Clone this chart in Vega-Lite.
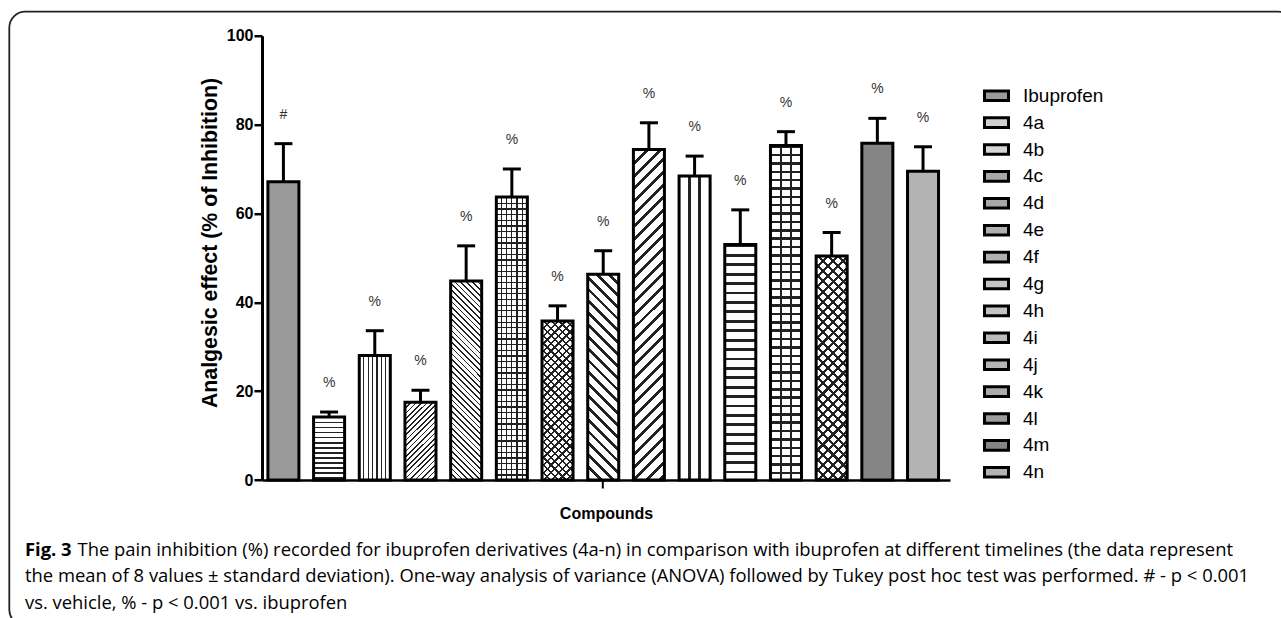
{
  "$schema": "https://vega.github.io/schema/vega-lite/v6.json",
  "width": 1285,
  "height": 614,
  "autosize": "none",
  "padding": {"left": 9.3, "top": 11.7, "right": -13.3, "bottom": -7.7},
  "background": "white",
  "view": {"stroke": "#222222", "strokeWidth": 1.8, "cornerRadius": 16, "fill": null},
  "title": {
    "text": "Fig. 3",
    "subtitle": [
      "\u200b\u00a0\u00a0\u00a0\u00a0\u00a0\u00a0\u00a0\u00a0\u00a0\u00a0\u00a0The pain inhibition (%) recorded for ibuprofen derivatives (4a-n) in comparison with ibuprofen at different timelines (the data represent",
      "the mean of 8 values ± standard deviation). One-way analysis of variance (ANOVA) followed by Tukey post hoc test was performed. # - p < 0.001",
      "vs. vehicle, % - p < 0.001 vs. ibuprofen"
    ],
    "orient": "bottom",
    "anchor": "start",
    "frame": "group",
    "offset": -85,
    "dx": 15.7,
    "font": "Open Sans",
    "fontSize": 18.4,
    "fontWeight": "bold",
    "color": "black",
    "subtitleFont": "Open Sans",
    "subtitleFontSize": 18.4,
    "subtitleFontWeight": "normal",
    "subtitleColor": "black",
    "subtitleLineHeight": 26.7,
    "subtitlePadding": -18.4
  },
  "data": {
    "values": [
      {"compound": "Ibuprofen", "value": 67.1, "upper": 75.7, "sig": "#"},
      {"compound": "4a", "value": 14.2, "upper": 15.3, "sig": "%"},
      {"compound": "4b", "value": 28.0, "upper": 33.6, "sig": "%"},
      {"compound": "4c", "value": 17.5, "upper": 20.2, "sig": "%"},
      {"compound": "4d", "value": 44.8, "upper": 52.7, "sig": "%"},
      {"compound": "4e", "value": 63.7, "upper": 70.0, "sig": "%"},
      {"compound": "4f", "value": 35.8, "upper": 39.2, "sig": "%"},
      {"compound": "4g", "value": 46.3, "upper": 51.6, "sig": "%"},
      {"compound": "4h", "value": 74.4, "upper": 80.4, "sig": "%"},
      {"compound": "4i", "value": 68.4, "upper": 72.9, "sig": "%"},
      {"compound": "4j", "value": 53.0, "upper": 60.8, "sig": "%"},
      {"compound": "4k", "value": 75.3, "upper": 78.4, "sig": "%"},
      {"compound": "4l", "value": 50.4, "upper": 55.7, "sig": "%"},
      {"compound": "4m", "value": 75.8, "upper": 81.4, "sig": "%"},
      {"compound": "4n", "value": 69.5, "upper": 75.0, "sig": "%"}
    ]
  },
  "encoding": {
    "x": {
      "field": "compound",
      "type": "nominal",
      "sort": null,
      "scale": {"range": [252.7, 940.7], "paddingInner": 0.321, "paddingOuter": 0.19, "align": 0.34},
      "axis": {
        "orient": "bottom",
        "offset": -145.7,
        "values": ["4g"],
        "labels": false,
        "ticks": true,
        "tickSize": 8,
        "tickWidth": 2,
        "tickColor": "black",
        "domainColor": "black",
        "domainWidth": 2.5,
        "grid": false,
        "title": "Compounds",
        "titleFont": "Liberation Sans",
        "titleFontSize": 16,
        "titleFontWeight": "bold",
        "titleColor": "black",
        "titleBaseline": "middle",
        "titleY": 33
      }
    }
  },
  "layer": [
    {
      "mark": {"type": "bar", "strokeWidth": 0},
      "encoding": {
        "y": {
          "field": "value",
          "type": "quantitative",
          "scale": {"domain": [0, 100], "range": [468.3, 24.0], "nice": false, "zero": true},
          "axis": {
            "orient": "left",
            "offset": -252.7,
            "values": [0, 20, 40, 60, 80, 100],
            "tickSize": 8,
            "tickWidth": 2.5,
            "tickColor": "black",
            "domainColor": "black",
            "domainWidth": 3,
            "grid": false,
            "labelFont": "Liberation Sans",
            "labelFontSize": 16,
            "labelFontWeight": "bold",
            "labelColor": "black",
            "labelPadding": 1,
            "title": "Analgesic effect (% of Inhibition)",
            "titleFont": "Liberation Sans",
            "titleFontSize": 21.3,
            "titleFontWeight": "bold",
            "titleColor": "black",
            "titleAngle": -90,
            "titleAlign": "center",
            "titleBaseline": "middle",
            "titleX": -52,
            "titleY": 230.8
          }
        },
        "fill": {
          "field": "compound",
          "type": "nominal",
          "sort": null,
          "scale": {
            "domain": ["Ibuprofen", "4a", "4b", "4c", "4d", "4e", "4f", "4g", "4h", "4i", "4j", "4k", "4l", "4m", "4n"],
            "range": ["#9a9a9a", "#d0d0d0", "#d6d6d6", "#a8a8a8", "#a8a8a8", "#b0b0b0", "#b0b0b0", "#c4c4c4", "#c4c4c4", "#bbbbbb", "#b4b4b4", "#ababab", "#9d9d9d", "#858585", "#b3b3b3"]
          },
          "legend": {
            "orient": "none",
            "legendX": 973.7,
            "legendY": 70.5,
            "title": null,
            "padding": 0,
            "symbolType": "M-1,-0.4H1V0.4H-1Z",
            "symbolSize": 576,
            "symbolStrokeColor": "black",
            "symbolStrokeWidth": 3,
            "symbolOpacity": 1,
            "labelFont": "Liberation Sans",
            "labelFontSize": 19,
            "labelColor": "black",
            "labelOffset": 13,
            "rowPadding": 1.9
          }
        }
      }
    },
    {
      "mark": {"type": "bar", "strokeWidth": 0},
      "encoding": {
        "y": {"field": "value", "type": "quantitative"},
        "fill": {
          "condition": [
            {"test": "datum.compound === '4a'", "value": {"gradient": "linear", "x1": 0, "y1": 0, "x2": 0, "y2": 1, "stops": [
              {"offset": 0, "color": "#222"}, {"offset": 0.022, "color": "#222"}, {"offset": 0.022, "color": "#fff"}, {"offset": 0.08, "color": "#fff"},
              {"offset": 0.08, "color": "#222"}, {"offset": 0.102, "color": "#222"}, {"offset": 0.102, "color": "#fff"}, {"offset": 0.16, "color": "#fff"},
              {"offset": 0.16, "color": "#222"}, {"offset": 0.182, "color": "#222"}, {"offset": 0.182, "color": "#fff"}, {"offset": 0.24, "color": "#fff"},
              {"offset": 0.24, "color": "#222"}, {"offset": 0.262, "color": "#222"}, {"offset": 0.262, "color": "#fff"}, {"offset": 0.32, "color": "#fff"},
              {"offset": 0.32, "color": "#222"}, {"offset": 0.342, "color": "#222"}, {"offset": 0.342, "color": "#fff"}, {"offset": 0.4, "color": "#fff"},
              {"offset": 0.4, "color": "#222"}, {"offset": 0.422, "color": "#222"}, {"offset": 0.422, "color": "#fff"}, {"offset": 0.48, "color": "#fff"},
              {"offset": 0.48, "color": "#222"}, {"offset": 0.502, "color": "#222"}, {"offset": 0.502, "color": "#fff"}, {"offset": 0.56, "color": "#fff"},
              {"offset": 0.56, "color": "#222"}, {"offset": 0.582, "color": "#222"}, {"offset": 0.582, "color": "#fff"}, {"offset": 0.64, "color": "#fff"},
              {"offset": 0.64, "color": "#222"}, {"offset": 0.662, "color": "#222"}, {"offset": 0.662, "color": "#fff"}, {"offset": 0.72, "color": "#fff"},
              {"offset": 0.72, "color": "#222"}, {"offset": 0.742, "color": "#222"}, {"offset": 0.742, "color": "#fff"}, {"offset": 0.8, "color": "#fff"},
              {"offset": 0.8, "color": "#222"}, {"offset": 0.822, "color": "#222"}, {"offset": 0.822, "color": "#fff"}, {"offset": 0.88, "color": "#fff"},
              {"offset": 0.88, "color": "#222"}, {"offset": 0.902, "color": "#222"}, {"offset": 0.902, "color": "#fff"}, {"offset": 0.96, "color": "#fff"},
              {"offset": 0.96, "color": "#222"}, {"offset": 0.982, "color": "#222"}, {"offset": 0.982, "color": "#fff"}, {"offset": 1, "color": "#fff"}
            ]}},
            {"test": "datum.compound === '4b'", "value": {"gradient": "linear", "x1": 0, "y1": 0, "x2": 1, "y2": 0, "stops": [
              {"offset": 0, "color": "#fff"},
              {"offset": 0.123, "color": "#fff"}, {"offset": 0.123, "color": "#222"}, {"offset": 0.163, "color": "#222"}, {"offset": 0.163, "color": "#fff"},
              {"offset": 0.266, "color": "#fff"}, {"offset": 0.266, "color": "#222"}, {"offset": 0.306, "color": "#222"}, {"offset": 0.306, "color": "#fff"},
              {"offset": 0.409, "color": "#fff"}, {"offset": 0.409, "color": "#222"}, {"offset": 0.449, "color": "#222"}, {"offset": 0.449, "color": "#fff"},
              {"offset": 0.551, "color": "#fff"}, {"offset": 0.551, "color": "#222"}, {"offset": 0.591, "color": "#222"}, {"offset": 0.591, "color": "#fff"},
              {"offset": 0.694, "color": "#fff"}, {"offset": 0.694, "color": "#222"}, {"offset": 0.734, "color": "#222"}, {"offset": 0.734, "color": "#fff"},
              {"offset": 0.837, "color": "#fff"}, {"offset": 0.837, "color": "#222"}, {"offset": 0.877, "color": "#222"}, {"offset": 0.877, "color": "#fff"},
              {"offset": 1, "color": "#fff"}
            ]}},
            {"test": "datum.compound === '4c'", "value": {"gradient": "linear", "x1": 0, "y1": 0, "x2": 0.479, "y2": 1.206, "stops": [
              {"offset": 0, "color": "#222"}, {"offset": 0.016, "color": "#222"}, {"offset": 0.016, "color": "#fff"}, {"offset": 0.05, "color": "#fff"},
              {"offset": 0.05, "color": "#222"}, {"offset": 0.066, "color": "#222"}, {"offset": 0.066, "color": "#fff"}, {"offset": 0.1, "color": "#fff"},
              {"offset": 0.1, "color": "#222"}, {"offset": 0.116, "color": "#222"}, {"offset": 0.116, "color": "#fff"}, {"offset": 0.15, "color": "#fff"},
              {"offset": 0.15, "color": "#222"}, {"offset": 0.166, "color": "#222"}, {"offset": 0.166, "color": "#fff"}, {"offset": 0.2, "color": "#fff"},
              {"offset": 0.2, "color": "#222"}, {"offset": 0.216, "color": "#222"}, {"offset": 0.216, "color": "#fff"}, {"offset": 0.25, "color": "#fff"},
              {"offset": 0.25, "color": "#222"}, {"offset": 0.266, "color": "#222"}, {"offset": 0.266, "color": "#fff"}, {"offset": 0.3, "color": "#fff"},
              {"offset": 0.3, "color": "#222"}, {"offset": 0.316, "color": "#222"}, {"offset": 0.316, "color": "#fff"}, {"offset": 0.35, "color": "#fff"},
              {"offset": 0.35, "color": "#222"}, {"offset": 0.366, "color": "#222"}, {"offset": 0.366, "color": "#fff"}, {"offset": 0.4, "color": "#fff"},
              {"offset": 0.4, "color": "#222"}, {"offset": 0.416, "color": "#222"}, {"offset": 0.416, "color": "#fff"}, {"offset": 0.45, "color": "#fff"},
              {"offset": 0.45, "color": "#222"}, {"offset": 0.466, "color": "#222"}, {"offset": 0.466, "color": "#fff"}, {"offset": 0.5, "color": "#fff"},
              {"offset": 0.5, "color": "#222"}, {"offset": 0.516, "color": "#222"}, {"offset": 0.516, "color": "#fff"}, {"offset": 0.55, "color": "#fff"},
              {"offset": 0.55, "color": "#222"}, {"offset": 0.566, "color": "#222"}, {"offset": 0.566, "color": "#fff"}, {"offset": 0.6, "color": "#fff"},
              {"offset": 0.6, "color": "#222"}, {"offset": 0.616, "color": "#222"}, {"offset": 0.616, "color": "#fff"}, {"offset": 0.65, "color": "#fff"},
              {"offset": 0.65, "color": "#222"}, {"offset": 0.666, "color": "#222"}, {"offset": 0.666, "color": "#fff"}, {"offset": 0.7, "color": "#fff"},
              {"offset": 0.7, "color": "#222"}, {"offset": 0.716, "color": "#222"}, {"offset": 0.716, "color": "#fff"}, {"offset": 0.75, "color": "#fff"},
              {"offset": 0.75, "color": "#222"}, {"offset": 0.766, "color": "#222"}, {"offset": 0.766, "color": "#fff"}, {"offset": 0.8, "color": "#fff"},
              {"offset": 0.8, "color": "#222"}, {"offset": 0.816, "color": "#222"}, {"offset": 0.816, "color": "#fff"}, {"offset": 0.85, "color": "#fff"},
              {"offset": 0.85, "color": "#222"}, {"offset": 0.866, "color": "#222"}, {"offset": 0.866, "color": "#fff"}, {"offset": 0.9, "color": "#fff"},
              {"offset": 0.9, "color": "#222"}, {"offset": 0.916, "color": "#222"}, {"offset": 0.916, "color": "#fff"}, {"offset": 0.95, "color": "#fff"},
              {"offset": 0.95, "color": "#222"}, {"offset": 0.966, "color": "#222"}, {"offset": 0.966, "color": "#fff"}, {"offset": 1, "color": "#fff"}
            ]}},
            {"test": "datum.compound === '4d'", "value": {"gradient": "linear", "x1": 0, "y1": 1, "x2": 0.176, "y2": -0.129, "stops": [
              {"offset": 0, "color": "#222"}, {"offset": 0.0075, "color": "#222"}, {"offset": 0.0075, "color": "#fff"}, {"offset": 0.025, "color": "#fff"},
              {"offset": 0.025, "color": "#222"}, {"offset": 0.0325, "color": "#222"}, {"offset": 0.0325, "color": "#fff"}, {"offset": 0.05, "color": "#fff"},
              {"offset": 0.05, "color": "#222"}, {"offset": 0.0575, "color": "#222"}, {"offset": 0.0575, "color": "#fff"}, {"offset": 0.075, "color": "#fff"},
              {"offset": 0.075, "color": "#222"}, {"offset": 0.0825, "color": "#222"}, {"offset": 0.0825, "color": "#fff"}, {"offset": 0.1, "color": "#fff"},
              {"offset": 0.1, "color": "#222"}, {"offset": 0.1075, "color": "#222"}, {"offset": 0.1075, "color": "#fff"}, {"offset": 0.125, "color": "#fff"},
              {"offset": 0.125, "color": "#222"}, {"offset": 0.1325, "color": "#222"}, {"offset": 0.1325, "color": "#fff"}, {"offset": 0.15, "color": "#fff"},
              {"offset": 0.15, "color": "#222"}, {"offset": 0.1575, "color": "#222"}, {"offset": 0.1575, "color": "#fff"}, {"offset": 0.175, "color": "#fff"},
              {"offset": 0.175, "color": "#222"}, {"offset": 0.1825, "color": "#222"}, {"offset": 0.1825, "color": "#fff"}, {"offset": 0.2, "color": "#fff"},
              {"offset": 0.2, "color": "#222"}, {"offset": 0.2075, "color": "#222"}, {"offset": 0.2075, "color": "#fff"}, {"offset": 0.225, "color": "#fff"},
              {"offset": 0.225, "color": "#222"}, {"offset": 0.2325, "color": "#222"}, {"offset": 0.2325, "color": "#fff"}, {"offset": 0.25, "color": "#fff"},
              {"offset": 0.25, "color": "#222"}, {"offset": 0.2575, "color": "#222"}, {"offset": 0.2575, "color": "#fff"}, {"offset": 0.275, "color": "#fff"},
              {"offset": 0.275, "color": "#222"}, {"offset": 0.2825, "color": "#222"}, {"offset": 0.2825, "color": "#fff"}, {"offset": 0.3, "color": "#fff"},
              {"offset": 0.3, "color": "#222"}, {"offset": 0.3075, "color": "#222"}, {"offset": 0.3075, "color": "#fff"}, {"offset": 0.325, "color": "#fff"},
              {"offset": 0.325, "color": "#222"}, {"offset": 0.3325, "color": "#222"}, {"offset": 0.3325, "color": "#fff"}, {"offset": 0.35, "color": "#fff"},
              {"offset": 0.35, "color": "#222"}, {"offset": 0.3575, "color": "#222"}, {"offset": 0.3575, "color": "#fff"}, {"offset": 0.375, "color": "#fff"},
              {"offset": 0.375, "color": "#222"}, {"offset": 0.3825, "color": "#222"}, {"offset": 0.3825, "color": "#fff"}, {"offset": 0.4, "color": "#fff"},
              {"offset": 0.4, "color": "#222"}, {"offset": 0.4075, "color": "#222"}, {"offset": 0.4075, "color": "#fff"}, {"offset": 0.425, "color": "#fff"},
              {"offset": 0.425, "color": "#222"}, {"offset": 0.4325, "color": "#222"}, {"offset": 0.4325, "color": "#fff"}, {"offset": 0.45, "color": "#fff"},
              {"offset": 0.45, "color": "#222"}, {"offset": 0.4575, "color": "#222"}, {"offset": 0.4575, "color": "#fff"}, {"offset": 0.475, "color": "#fff"},
              {"offset": 0.475, "color": "#222"}, {"offset": 0.4825, "color": "#222"}, {"offset": 0.4825, "color": "#fff"}, {"offset": 0.5, "color": "#fff"},
              {"offset": 0.5, "color": "#222"}, {"offset": 0.5075, "color": "#222"}, {"offset": 0.5075, "color": "#fff"}, {"offset": 0.525, "color": "#fff"},
              {"offset": 0.525, "color": "#222"}, {"offset": 0.5325, "color": "#222"}, {"offset": 0.5325, "color": "#fff"}, {"offset": 0.55, "color": "#fff"},
              {"offset": 0.55, "color": "#222"}, {"offset": 0.5575, "color": "#222"}, {"offset": 0.5575, "color": "#fff"}, {"offset": 0.575, "color": "#fff"},
              {"offset": 0.575, "color": "#222"}, {"offset": 0.5825, "color": "#222"}, {"offset": 0.5825, "color": "#fff"}, {"offset": 0.6, "color": "#fff"},
              {"offset": 0.6, "color": "#222"}, {"offset": 0.6075, "color": "#222"}, {"offset": 0.6075, "color": "#fff"}, {"offset": 0.625, "color": "#fff"},
              {"offset": 0.625, "color": "#222"}, {"offset": 0.6325, "color": "#222"}, {"offset": 0.6325, "color": "#fff"}, {"offset": 0.65, "color": "#fff"},
              {"offset": 0.65, "color": "#222"}, {"offset": 0.6575, "color": "#222"}, {"offset": 0.6575, "color": "#fff"}, {"offset": 0.675, "color": "#fff"},
              {"offset": 0.675, "color": "#222"}, {"offset": 0.6825, "color": "#222"}, {"offset": 0.6825, "color": "#fff"}, {"offset": 0.7, "color": "#fff"},
              {"offset": 0.7, "color": "#222"}, {"offset": 0.7075, "color": "#222"}, {"offset": 0.7075, "color": "#fff"}, {"offset": 0.725, "color": "#fff"},
              {"offset": 0.725, "color": "#222"}, {"offset": 0.7325, "color": "#222"}, {"offset": 0.7325, "color": "#fff"}, {"offset": 0.75, "color": "#fff"},
              {"offset": 0.75, "color": "#222"}, {"offset": 0.7575, "color": "#222"}, {"offset": 0.7575, "color": "#fff"}, {"offset": 0.775, "color": "#fff"},
              {"offset": 0.775, "color": "#222"}, {"offset": 0.7825, "color": "#222"}, {"offset": 0.7825, "color": "#fff"}, {"offset": 0.8, "color": "#fff"},
              {"offset": 0.8, "color": "#222"}, {"offset": 0.8075, "color": "#222"}, {"offset": 0.8075, "color": "#fff"}, {"offset": 0.825, "color": "#fff"},
              {"offset": 0.825, "color": "#222"}, {"offset": 0.8325, "color": "#222"}, {"offset": 0.8325, "color": "#fff"}, {"offset": 0.85, "color": "#fff"},
              {"offset": 0.85, "color": "#222"}, {"offset": 0.8575, "color": "#222"}, {"offset": 0.8575, "color": "#fff"}, {"offset": 0.875, "color": "#fff"},
              {"offset": 0.875, "color": "#222"}, {"offset": 0.8825, "color": "#222"}, {"offset": 0.8825, "color": "#fff"}, {"offset": 0.9, "color": "#fff"},
              {"offset": 0.9, "color": "#222"}, {"offset": 0.9075, "color": "#222"}, {"offset": 0.9075, "color": "#fff"}, {"offset": 0.925, "color": "#fff"},
              {"offset": 0.925, "color": "#222"}, {"offset": 0.9325, "color": "#222"}, {"offset": 0.9325, "color": "#fff"}, {"offset": 0.95, "color": "#fff"},
              {"offset": 0.95, "color": "#222"}, {"offset": 0.9575, "color": "#222"}, {"offset": 0.9575, "color": "#fff"}, {"offset": 0.975, "color": "#fff"},
              {"offset": 0.975, "color": "#222"}, {"offset": 0.9825, "color": "#222"}, {"offset": 0.9825, "color": "#fff"}, {"offset": 1, "color": "#fff"}
            ]}},
            {"test": "datum.compound === '4e'", "value": {"gradient": "linear", "x1": 0, "y1": 0, "x2": 0, "y2": 1, "stops": [
              {"offset": 0, "color": "#222"}, {"offset": 0.0045, "color": "#222"}, {"offset": 0.0045, "color": "#fff"}, {"offset": 0.02, "color": "#fff"},
              {"offset": 0.02, "color": "#222"}, {"offset": 0.0245, "color": "#222"}, {"offset": 0.0245, "color": "#fff"}, {"offset": 0.04, "color": "#fff"},
              {"offset": 0.04, "color": "#222"}, {"offset": 0.0445, "color": "#222"}, {"offset": 0.0445, "color": "#fff"}, {"offset": 0.06, "color": "#fff"},
              {"offset": 0.06, "color": "#222"}, {"offset": 0.0645, "color": "#222"}, {"offset": 0.0645, "color": "#fff"}, {"offset": 0.08, "color": "#fff"},
              {"offset": 0.08, "color": "#222"}, {"offset": 0.0845, "color": "#222"}, {"offset": 0.0845, "color": "#fff"}, {"offset": 0.1, "color": "#fff"},
              {"offset": 0.1, "color": "#222"}, {"offset": 0.1045, "color": "#222"}, {"offset": 0.1045, "color": "#fff"}, {"offset": 0.12, "color": "#fff"},
              {"offset": 0.12, "color": "#222"}, {"offset": 0.1245, "color": "#222"}, {"offset": 0.1245, "color": "#fff"}, {"offset": 0.14, "color": "#fff"},
              {"offset": 0.14, "color": "#222"}, {"offset": 0.1445, "color": "#222"}, {"offset": 0.1445, "color": "#fff"}, {"offset": 0.16, "color": "#fff"},
              {"offset": 0.16, "color": "#222"}, {"offset": 0.1645, "color": "#222"}, {"offset": 0.1645, "color": "#fff"}, {"offset": 0.18, "color": "#fff"},
              {"offset": 0.18, "color": "#222"}, {"offset": 0.1845, "color": "#222"}, {"offset": 0.1845, "color": "#fff"}, {"offset": 0.2, "color": "#fff"},
              {"offset": 0.2, "color": "#222"}, {"offset": 0.2045, "color": "#222"}, {"offset": 0.2045, "color": "#fff"}, {"offset": 0.22, "color": "#fff"},
              {"offset": 0.22, "color": "#222"}, {"offset": 0.2245, "color": "#222"}, {"offset": 0.2245, "color": "#fff"}, {"offset": 0.24, "color": "#fff"},
              {"offset": 0.24, "color": "#222"}, {"offset": 0.2445, "color": "#222"}, {"offset": 0.2445, "color": "#fff"}, {"offset": 0.26, "color": "#fff"},
              {"offset": 0.26, "color": "#222"}, {"offset": 0.2645, "color": "#222"}, {"offset": 0.2645, "color": "#fff"}, {"offset": 0.28, "color": "#fff"},
              {"offset": 0.28, "color": "#222"}, {"offset": 0.2845, "color": "#222"}, {"offset": 0.2845, "color": "#fff"}, {"offset": 0.3, "color": "#fff"},
              {"offset": 0.3, "color": "#222"}, {"offset": 0.3045, "color": "#222"}, {"offset": 0.3045, "color": "#fff"}, {"offset": 0.32, "color": "#fff"},
              {"offset": 0.32, "color": "#222"}, {"offset": 0.3245, "color": "#222"}, {"offset": 0.3245, "color": "#fff"}, {"offset": 0.34, "color": "#fff"},
              {"offset": 0.34, "color": "#222"}, {"offset": 0.3445, "color": "#222"}, {"offset": 0.3445, "color": "#fff"}, {"offset": 0.36, "color": "#fff"},
              {"offset": 0.36, "color": "#222"}, {"offset": 0.3645, "color": "#222"}, {"offset": 0.3645, "color": "#fff"}, {"offset": 0.38, "color": "#fff"},
              {"offset": 0.38, "color": "#222"}, {"offset": 0.3845, "color": "#222"}, {"offset": 0.3845, "color": "#fff"}, {"offset": 0.4, "color": "#fff"},
              {"offset": 0.4, "color": "#222"}, {"offset": 0.4045, "color": "#222"}, {"offset": 0.4045, "color": "#fff"}, {"offset": 0.42, "color": "#fff"},
              {"offset": 0.42, "color": "#222"}, {"offset": 0.4245, "color": "#222"}, {"offset": 0.4245, "color": "#fff"}, {"offset": 0.44, "color": "#fff"},
              {"offset": 0.44, "color": "#222"}, {"offset": 0.4445, "color": "#222"}, {"offset": 0.4445, "color": "#fff"}, {"offset": 0.46, "color": "#fff"},
              {"offset": 0.46, "color": "#222"}, {"offset": 0.4645, "color": "#222"}, {"offset": 0.4645, "color": "#fff"}, {"offset": 0.48, "color": "#fff"},
              {"offset": 0.48, "color": "#222"}, {"offset": 0.4845, "color": "#222"}, {"offset": 0.4845, "color": "#fff"}, {"offset": 0.5, "color": "#fff"},
              {"offset": 0.5, "color": "#222"}, {"offset": 0.5045, "color": "#222"}, {"offset": 0.5045, "color": "#fff"}, {"offset": 0.52, "color": "#fff"},
              {"offset": 0.52, "color": "#222"}, {"offset": 0.5245, "color": "#222"}, {"offset": 0.5245, "color": "#fff"}, {"offset": 0.54, "color": "#fff"},
              {"offset": 0.54, "color": "#222"}, {"offset": 0.5445, "color": "#222"}, {"offset": 0.5445, "color": "#fff"}, {"offset": 0.56, "color": "#fff"},
              {"offset": 0.56, "color": "#222"}, {"offset": 0.5645, "color": "#222"}, {"offset": 0.5645, "color": "#fff"}, {"offset": 0.58, "color": "#fff"},
              {"offset": 0.58, "color": "#222"}, {"offset": 0.5845, "color": "#222"}, {"offset": 0.5845, "color": "#fff"}, {"offset": 0.6, "color": "#fff"},
              {"offset": 0.6, "color": "#222"}, {"offset": 0.6045, "color": "#222"}, {"offset": 0.6045, "color": "#fff"}, {"offset": 0.62, "color": "#fff"},
              {"offset": 0.62, "color": "#222"}, {"offset": 0.6245, "color": "#222"}, {"offset": 0.6245, "color": "#fff"}, {"offset": 0.64, "color": "#fff"},
              {"offset": 0.64, "color": "#222"}, {"offset": 0.6445, "color": "#222"}, {"offset": 0.6445, "color": "#fff"}, {"offset": 0.66, "color": "#fff"},
              {"offset": 0.66, "color": "#222"}, {"offset": 0.6645, "color": "#222"}, {"offset": 0.6645, "color": "#fff"}, {"offset": 0.68, "color": "#fff"},
              {"offset": 0.68, "color": "#222"}, {"offset": 0.6845, "color": "#222"}, {"offset": 0.6845, "color": "#fff"}, {"offset": 0.7, "color": "#fff"},
              {"offset": 0.7, "color": "#222"}, {"offset": 0.7045, "color": "#222"}, {"offset": 0.7045, "color": "#fff"}, {"offset": 0.72, "color": "#fff"},
              {"offset": 0.72, "color": "#222"}, {"offset": 0.7245, "color": "#222"}, {"offset": 0.7245, "color": "#fff"}, {"offset": 0.74, "color": "#fff"},
              {"offset": 0.74, "color": "#222"}, {"offset": 0.7445, "color": "#222"}, {"offset": 0.7445, "color": "#fff"}, {"offset": 0.76, "color": "#fff"},
              {"offset": 0.76, "color": "#222"}, {"offset": 0.7645, "color": "#222"}, {"offset": 0.7645, "color": "#fff"}, {"offset": 0.78, "color": "#fff"},
              {"offset": 0.78, "color": "#222"}, {"offset": 0.7845, "color": "#222"}, {"offset": 0.7845, "color": "#fff"}, {"offset": 0.8, "color": "#fff"},
              {"offset": 0.8, "color": "#222"}, {"offset": 0.8045, "color": "#222"}, {"offset": 0.8045, "color": "#fff"}, {"offset": 0.82, "color": "#fff"},
              {"offset": 0.82, "color": "#222"}, {"offset": 0.8245, "color": "#222"}, {"offset": 0.8245, "color": "#fff"}, {"offset": 0.84, "color": "#fff"},
              {"offset": 0.84, "color": "#222"}, {"offset": 0.8445, "color": "#222"}, {"offset": 0.8445, "color": "#fff"}, {"offset": 0.86, "color": "#fff"},
              {"offset": 0.86, "color": "#222"}, {"offset": 0.8645, "color": "#222"}, {"offset": 0.8645, "color": "#fff"}, {"offset": 0.88, "color": "#fff"},
              {"offset": 0.88, "color": "#222"}, {"offset": 0.8845, "color": "#222"}, {"offset": 0.8845, "color": "#fff"}, {"offset": 0.9, "color": "#fff"},
              {"offset": 0.9, "color": "#222"}, {"offset": 0.9045, "color": "#222"}, {"offset": 0.9045, "color": "#fff"}, {"offset": 0.92, "color": "#fff"},
              {"offset": 0.92, "color": "#222"}, {"offset": 0.9245, "color": "#222"}, {"offset": 0.9245, "color": "#fff"}, {"offset": 0.94, "color": "#fff"},
              {"offset": 0.94, "color": "#222"}, {"offset": 0.9445, "color": "#222"}, {"offset": 0.9445, "color": "#fff"}, {"offset": 0.96, "color": "#fff"},
              {"offset": 0.96, "color": "#222"}, {"offset": 0.9645, "color": "#222"}, {"offset": 0.9645, "color": "#fff"}, {"offset": 0.98, "color": "#fff"},
              {"offset": 0.98, "color": "#222"}, {"offset": 0.9845, "color": "#222"}, {"offset": 0.9845, "color": "#fff"}, {"offset": 1, "color": "#fff"}
            ]}},
            {"test": "datum.compound === '4f'", "value": {"gradient": "linear", "x1": 0, "y1": 0, "x2": 0.2246, "y2": 1.151, "stops": [
              {"offset": 0, "color": "#222"}, {"offset": 0.012, "color": "#222"}, {"offset": 0.012, "color": "#fff"}, {"offset": 0.04, "color": "#fff"},
              {"offset": 0.04, "color": "#222"}, {"offset": 0.052, "color": "#222"}, {"offset": 0.052, "color": "#fff"}, {"offset": 0.08, "color": "#fff"},
              {"offset": 0.08, "color": "#222"}, {"offset": 0.092, "color": "#222"}, {"offset": 0.092, "color": "#fff"}, {"offset": 0.12, "color": "#fff"},
              {"offset": 0.12, "color": "#222"}, {"offset": 0.132, "color": "#222"}, {"offset": 0.132, "color": "#fff"}, {"offset": 0.16, "color": "#fff"},
              {"offset": 0.16, "color": "#222"}, {"offset": 0.172, "color": "#222"}, {"offset": 0.172, "color": "#fff"}, {"offset": 0.2, "color": "#fff"},
              {"offset": 0.2, "color": "#222"}, {"offset": 0.212, "color": "#222"}, {"offset": 0.212, "color": "#fff"}, {"offset": 0.24, "color": "#fff"},
              {"offset": 0.24, "color": "#222"}, {"offset": 0.252, "color": "#222"}, {"offset": 0.252, "color": "#fff"}, {"offset": 0.28, "color": "#fff"},
              {"offset": 0.28, "color": "#222"}, {"offset": 0.292, "color": "#222"}, {"offset": 0.292, "color": "#fff"}, {"offset": 0.32, "color": "#fff"},
              {"offset": 0.32, "color": "#222"}, {"offset": 0.332, "color": "#222"}, {"offset": 0.332, "color": "#fff"}, {"offset": 0.36, "color": "#fff"},
              {"offset": 0.36, "color": "#222"}, {"offset": 0.372, "color": "#222"}, {"offset": 0.372, "color": "#fff"}, {"offset": 0.4, "color": "#fff"},
              {"offset": 0.4, "color": "#222"}, {"offset": 0.412, "color": "#222"}, {"offset": 0.412, "color": "#fff"}, {"offset": 0.44, "color": "#fff"},
              {"offset": 0.44, "color": "#222"}, {"offset": 0.452, "color": "#222"}, {"offset": 0.452, "color": "#fff"}, {"offset": 0.48, "color": "#fff"},
              {"offset": 0.48, "color": "#222"}, {"offset": 0.492, "color": "#222"}, {"offset": 0.492, "color": "#fff"}, {"offset": 0.52, "color": "#fff"},
              {"offset": 0.52, "color": "#222"}, {"offset": 0.532, "color": "#222"}, {"offset": 0.532, "color": "#fff"}, {"offset": 0.56, "color": "#fff"},
              {"offset": 0.56, "color": "#222"}, {"offset": 0.572, "color": "#222"}, {"offset": 0.572, "color": "#fff"}, {"offset": 0.6, "color": "#fff"},
              {"offset": 0.6, "color": "#222"}, {"offset": 0.612, "color": "#222"}, {"offset": 0.612, "color": "#fff"}, {"offset": 0.64, "color": "#fff"},
              {"offset": 0.64, "color": "#222"}, {"offset": 0.652, "color": "#222"}, {"offset": 0.652, "color": "#fff"}, {"offset": 0.68, "color": "#fff"},
              {"offset": 0.68, "color": "#222"}, {"offset": 0.692, "color": "#222"}, {"offset": 0.692, "color": "#fff"}, {"offset": 0.72, "color": "#fff"},
              {"offset": 0.72, "color": "#222"}, {"offset": 0.732, "color": "#222"}, {"offset": 0.732, "color": "#fff"}, {"offset": 0.76, "color": "#fff"},
              {"offset": 0.76, "color": "#222"}, {"offset": 0.772, "color": "#222"}, {"offset": 0.772, "color": "#fff"}, {"offset": 0.8, "color": "#fff"},
              {"offset": 0.8, "color": "#222"}, {"offset": 0.812, "color": "#222"}, {"offset": 0.812, "color": "#fff"}, {"offset": 0.84, "color": "#fff"},
              {"offset": 0.84, "color": "#222"}, {"offset": 0.852, "color": "#222"}, {"offset": 0.852, "color": "#fff"}, {"offset": 0.88, "color": "#fff"},
              {"offset": 0.88, "color": "#222"}, {"offset": 0.892, "color": "#222"}, {"offset": 0.892, "color": "#fff"}, {"offset": 0.92, "color": "#fff"},
              {"offset": 0.92, "color": "#222"}, {"offset": 0.932, "color": "#222"}, {"offset": 0.932, "color": "#fff"}, {"offset": 0.96, "color": "#fff"},
              {"offset": 0.96, "color": "#222"}, {"offset": 0.972, "color": "#222"}, {"offset": 0.972, "color": "#fff"}, {"offset": 1, "color": "#fff"}
            ]}},
            {"test": "datum.compound === '4g'", "value": {"gradient": "linear", "x1": 0, "y1": 1, "x2": 0.1693, "y2": -0.125, "stops": [
              {"offset": 0, "color": "#222"}, {"offset": 0.016, "color": "#222"}, {"offset": 0.016, "color": "#fff"}, {"offset": 0.05, "color": "#fff"},
              {"offset": 0.05, "color": "#222"}, {"offset": 0.066, "color": "#222"}, {"offset": 0.066, "color": "#fff"}, {"offset": 0.1, "color": "#fff"},
              {"offset": 0.1, "color": "#222"}, {"offset": 0.116, "color": "#222"}, {"offset": 0.116, "color": "#fff"}, {"offset": 0.15, "color": "#fff"},
              {"offset": 0.15, "color": "#222"}, {"offset": 0.166, "color": "#222"}, {"offset": 0.166, "color": "#fff"}, {"offset": 0.2, "color": "#fff"},
              {"offset": 0.2, "color": "#222"}, {"offset": 0.216, "color": "#222"}, {"offset": 0.216, "color": "#fff"}, {"offset": 0.25, "color": "#fff"},
              {"offset": 0.25, "color": "#222"}, {"offset": 0.266, "color": "#222"}, {"offset": 0.266, "color": "#fff"}, {"offset": 0.3, "color": "#fff"},
              {"offset": 0.3, "color": "#222"}, {"offset": 0.316, "color": "#222"}, {"offset": 0.316, "color": "#fff"}, {"offset": 0.35, "color": "#fff"},
              {"offset": 0.35, "color": "#222"}, {"offset": 0.366, "color": "#222"}, {"offset": 0.366, "color": "#fff"}, {"offset": 0.4, "color": "#fff"},
              {"offset": 0.4, "color": "#222"}, {"offset": 0.416, "color": "#222"}, {"offset": 0.416, "color": "#fff"}, {"offset": 0.45, "color": "#fff"},
              {"offset": 0.45, "color": "#222"}, {"offset": 0.466, "color": "#222"}, {"offset": 0.466, "color": "#fff"}, {"offset": 0.5, "color": "#fff"},
              {"offset": 0.5, "color": "#222"}, {"offset": 0.516, "color": "#222"}, {"offset": 0.516, "color": "#fff"}, {"offset": 0.55, "color": "#fff"},
              {"offset": 0.55, "color": "#222"}, {"offset": 0.566, "color": "#222"}, {"offset": 0.566, "color": "#fff"}, {"offset": 0.6, "color": "#fff"},
              {"offset": 0.6, "color": "#222"}, {"offset": 0.616, "color": "#222"}, {"offset": 0.616, "color": "#fff"}, {"offset": 0.65, "color": "#fff"},
              {"offset": 0.65, "color": "#222"}, {"offset": 0.666, "color": "#222"}, {"offset": 0.666, "color": "#fff"}, {"offset": 0.7, "color": "#fff"},
              {"offset": 0.7, "color": "#222"}, {"offset": 0.716, "color": "#222"}, {"offset": 0.716, "color": "#fff"}, {"offset": 0.75, "color": "#fff"},
              {"offset": 0.75, "color": "#222"}, {"offset": 0.766, "color": "#222"}, {"offset": 0.766, "color": "#fff"}, {"offset": 0.8, "color": "#fff"},
              {"offset": 0.8, "color": "#222"}, {"offset": 0.816, "color": "#222"}, {"offset": 0.816, "color": "#fff"}, {"offset": 0.85, "color": "#fff"},
              {"offset": 0.85, "color": "#222"}, {"offset": 0.866, "color": "#222"}, {"offset": 0.866, "color": "#fff"}, {"offset": 0.9, "color": "#fff"},
              {"offset": 0.9, "color": "#222"}, {"offset": 0.916, "color": "#222"}, {"offset": 0.916, "color": "#fff"}, {"offset": 0.95, "color": "#fff"},
              {"offset": 0.95, "color": "#222"}, {"offset": 0.966, "color": "#222"}, {"offset": 0.966, "color": "#fff"}, {"offset": 1, "color": "#fff"}
            ]}},
            {"test": "datum.compound === '4h'", "value": {"gradient": "linear", "x1": 0, "y1": 0, "x2": 0.1016, "y2": 1.0842, "stops": [
              {"offset": 0, "color": "#222"}, {"offset": 0.011, "color": "#222"}, {"offset": 0.011, "color": "#fff"}, {"offset": 0.035, "color": "#fff"},
              {"offset": 0.035, "color": "#222"}, {"offset": 0.046, "color": "#222"}, {"offset": 0.046, "color": "#fff"}, {"offset": 0.07, "color": "#fff"},
              {"offset": 0.07, "color": "#222"}, {"offset": 0.081, "color": "#222"}, {"offset": 0.081, "color": "#fff"}, {"offset": 0.105, "color": "#fff"},
              {"offset": 0.105, "color": "#222"}, {"offset": 0.116, "color": "#222"}, {"offset": 0.116, "color": "#fff"}, {"offset": 0.14, "color": "#fff"},
              {"offset": 0.14, "color": "#222"}, {"offset": 0.151, "color": "#222"}, {"offset": 0.151, "color": "#fff"}, {"offset": 0.175, "color": "#fff"},
              {"offset": 0.175, "color": "#222"}, {"offset": 0.186, "color": "#222"}, {"offset": 0.186, "color": "#fff"}, {"offset": 0.21, "color": "#fff"},
              {"offset": 0.21, "color": "#222"}, {"offset": 0.221, "color": "#222"}, {"offset": 0.221, "color": "#fff"}, {"offset": 0.245, "color": "#fff"},
              {"offset": 0.245, "color": "#222"}, {"offset": 0.256, "color": "#222"}, {"offset": 0.256, "color": "#fff"}, {"offset": 0.28, "color": "#fff"},
              {"offset": 0.28, "color": "#222"}, {"offset": 0.291, "color": "#222"}, {"offset": 0.291, "color": "#fff"}, {"offset": 0.315, "color": "#fff"},
              {"offset": 0.315, "color": "#222"}, {"offset": 0.326, "color": "#222"}, {"offset": 0.326, "color": "#fff"}, {"offset": 0.35, "color": "#fff"},
              {"offset": 0.35, "color": "#222"}, {"offset": 0.361, "color": "#222"}, {"offset": 0.361, "color": "#fff"}, {"offset": 0.385, "color": "#fff"},
              {"offset": 0.385, "color": "#222"}, {"offset": 0.396, "color": "#222"}, {"offset": 0.396, "color": "#fff"}, {"offset": 0.42, "color": "#fff"},
              {"offset": 0.42, "color": "#222"}, {"offset": 0.431, "color": "#222"}, {"offset": 0.431, "color": "#fff"}, {"offset": 0.455, "color": "#fff"},
              {"offset": 0.455, "color": "#222"}, {"offset": 0.466, "color": "#222"}, {"offset": 0.466, "color": "#fff"}, {"offset": 0.49, "color": "#fff"},
              {"offset": 0.49, "color": "#222"}, {"offset": 0.501, "color": "#222"}, {"offset": 0.501, "color": "#fff"}, {"offset": 0.525, "color": "#fff"},
              {"offset": 0.525, "color": "#222"}, {"offset": 0.536, "color": "#222"}, {"offset": 0.536, "color": "#fff"}, {"offset": 0.56, "color": "#fff"},
              {"offset": 0.56, "color": "#222"}, {"offset": 0.571, "color": "#222"}, {"offset": 0.571, "color": "#fff"}, {"offset": 0.595, "color": "#fff"},
              {"offset": 0.595, "color": "#222"}, {"offset": 0.606, "color": "#222"}, {"offset": 0.606, "color": "#fff"}, {"offset": 0.63, "color": "#fff"},
              {"offset": 0.63, "color": "#222"}, {"offset": 0.641, "color": "#222"}, {"offset": 0.641, "color": "#fff"}, {"offset": 0.665, "color": "#fff"},
              {"offset": 0.665, "color": "#222"}, {"offset": 0.676, "color": "#222"}, {"offset": 0.676, "color": "#fff"}, {"offset": 0.7, "color": "#fff"},
              {"offset": 0.7, "color": "#222"}, {"offset": 0.711, "color": "#222"}, {"offset": 0.711, "color": "#fff"}, {"offset": 0.735, "color": "#fff"},
              {"offset": 0.735, "color": "#222"}, {"offset": 0.746, "color": "#222"}, {"offset": 0.746, "color": "#fff"}, {"offset": 0.77, "color": "#fff"},
              {"offset": 0.77, "color": "#222"}, {"offset": 0.781, "color": "#222"}, {"offset": 0.781, "color": "#fff"}, {"offset": 0.805, "color": "#fff"},
              {"offset": 0.805, "color": "#222"}, {"offset": 0.816, "color": "#222"}, {"offset": 0.816, "color": "#fff"}, {"offset": 0.84, "color": "#fff"},
              {"offset": 0.84, "color": "#222"}, {"offset": 0.851, "color": "#222"}, {"offset": 0.851, "color": "#fff"}, {"offset": 0.875, "color": "#fff"},
              {"offset": 0.875, "color": "#222"}, {"offset": 0.886, "color": "#222"}, {"offset": 0.886, "color": "#fff"}, {"offset": 0.91, "color": "#fff"},
              {"offset": 0.91, "color": "#222"}, {"offset": 0.921, "color": "#222"}, {"offset": 0.921, "color": "#fff"}, {"offset": 0.945, "color": "#fff"},
              {"offset": 0.945, "color": "#222"}, {"offset": 0.956, "color": "#222"}, {"offset": 0.956, "color": "#fff"}, {"offset": 0.98, "color": "#fff"},
              {"offset": 0.98, "color": "#222"}, {"offset": 0.991, "color": "#222"}, {"offset": 0.991, "color": "#fff"}, {"offset": 1, "color": "#fff"}
            ]}},
            {"test": "datum.compound === '4i'", "value": {"gradient": "linear", "x1": 0, "y1": 0, "x2": 1, "y2": 0, "stops": [
              {"offset": 0, "color": "#fff"},
              {"offset": 0.29, "color": "#fff"}, {"offset": 0.29, "color": "#222"}, {"offset": 0.375, "color": "#222"}, {"offset": 0.375, "color": "#fff"},
              {"offset": 0.625, "color": "#fff"}, {"offset": 0.625, "color": "#222"}, {"offset": 0.71, "color": "#222"}, {"offset": 0.71, "color": "#fff"},
              {"offset": 1, "color": "#fff"}
            ]}},
            {"test": "datum.compound === '4j'", "value": {"gradient": "linear", "x1": 0, "y1": 0, "x2": 0, "y2": 1, "stops": [
              {"offset": 0, "color": "#222"}, {"offset": 0.012, "color": "#222"}, {"offset": 0.012, "color": "#fff"}, {"offset": 0.04, "color": "#fff"},
              {"offset": 0.04, "color": "#222"}, {"offset": 0.052, "color": "#222"}, {"offset": 0.052, "color": "#fff"}, {"offset": 0.08, "color": "#fff"},
              {"offset": 0.08, "color": "#222"}, {"offset": 0.092, "color": "#222"}, {"offset": 0.092, "color": "#fff"}, {"offset": 0.12, "color": "#fff"},
              {"offset": 0.12, "color": "#222"}, {"offset": 0.132, "color": "#222"}, {"offset": 0.132, "color": "#fff"}, {"offset": 0.16, "color": "#fff"},
              {"offset": 0.16, "color": "#222"}, {"offset": 0.172, "color": "#222"}, {"offset": 0.172, "color": "#fff"}, {"offset": 0.2, "color": "#fff"},
              {"offset": 0.2, "color": "#222"}, {"offset": 0.212, "color": "#222"}, {"offset": 0.212, "color": "#fff"}, {"offset": 0.24, "color": "#fff"},
              {"offset": 0.24, "color": "#222"}, {"offset": 0.252, "color": "#222"}, {"offset": 0.252, "color": "#fff"}, {"offset": 0.28, "color": "#fff"},
              {"offset": 0.28, "color": "#222"}, {"offset": 0.292, "color": "#222"}, {"offset": 0.292, "color": "#fff"}, {"offset": 0.32, "color": "#fff"},
              {"offset": 0.32, "color": "#222"}, {"offset": 0.332, "color": "#222"}, {"offset": 0.332, "color": "#fff"}, {"offset": 0.36, "color": "#fff"},
              {"offset": 0.36, "color": "#222"}, {"offset": 0.372, "color": "#222"}, {"offset": 0.372, "color": "#fff"}, {"offset": 0.4, "color": "#fff"},
              {"offset": 0.4, "color": "#222"}, {"offset": 0.412, "color": "#222"}, {"offset": 0.412, "color": "#fff"}, {"offset": 0.44, "color": "#fff"},
              {"offset": 0.44, "color": "#222"}, {"offset": 0.452, "color": "#222"}, {"offset": 0.452, "color": "#fff"}, {"offset": 0.48, "color": "#fff"},
              {"offset": 0.48, "color": "#222"}, {"offset": 0.492, "color": "#222"}, {"offset": 0.492, "color": "#fff"}, {"offset": 0.52, "color": "#fff"},
              {"offset": 0.52, "color": "#222"}, {"offset": 0.532, "color": "#222"}, {"offset": 0.532, "color": "#fff"}, {"offset": 0.56, "color": "#fff"},
              {"offset": 0.56, "color": "#222"}, {"offset": 0.572, "color": "#222"}, {"offset": 0.572, "color": "#fff"}, {"offset": 0.6, "color": "#fff"},
              {"offset": 0.6, "color": "#222"}, {"offset": 0.612, "color": "#222"}, {"offset": 0.612, "color": "#fff"}, {"offset": 0.64, "color": "#fff"},
              {"offset": 0.64, "color": "#222"}, {"offset": 0.652, "color": "#222"}, {"offset": 0.652, "color": "#fff"}, {"offset": 0.68, "color": "#fff"},
              {"offset": 0.68, "color": "#222"}, {"offset": 0.692, "color": "#222"}, {"offset": 0.692, "color": "#fff"}, {"offset": 0.72, "color": "#fff"},
              {"offset": 0.72, "color": "#222"}, {"offset": 0.732, "color": "#222"}, {"offset": 0.732, "color": "#fff"}, {"offset": 0.76, "color": "#fff"},
              {"offset": 0.76, "color": "#222"}, {"offset": 0.772, "color": "#222"}, {"offset": 0.772, "color": "#fff"}, {"offset": 0.8, "color": "#fff"},
              {"offset": 0.8, "color": "#222"}, {"offset": 0.812, "color": "#222"}, {"offset": 0.812, "color": "#fff"}, {"offset": 0.84, "color": "#fff"},
              {"offset": 0.84, "color": "#222"}, {"offset": 0.852, "color": "#222"}, {"offset": 0.852, "color": "#fff"}, {"offset": 0.88, "color": "#fff"},
              {"offset": 0.88, "color": "#222"}, {"offset": 0.892, "color": "#222"}, {"offset": 0.892, "color": "#fff"}, {"offset": 0.92, "color": "#fff"},
              {"offset": 0.92, "color": "#222"}, {"offset": 0.932, "color": "#222"}, {"offset": 0.932, "color": "#fff"}, {"offset": 0.96, "color": "#fff"},
              {"offset": 0.96, "color": "#222"}, {"offset": 0.972, "color": "#222"}, {"offset": 0.972, "color": "#fff"}, {"offset": 1, "color": "#fff"}
            ]}},
            {"test": "datum.compound === '4k'", "value": {"gradient": "linear", "x1": 0, "y1": 0, "x2": 0, "y2": 1, "stops": [
              {"offset": 0, "color": "#222"}, {"offset": 0.0075, "color": "#222"}, {"offset": 0.0075, "color": "#fff"}, {"offset": 0.025, "color": "#fff"},
              {"offset": 0.025, "color": "#222"}, {"offset": 0.0325, "color": "#222"}, {"offset": 0.0325, "color": "#fff"}, {"offset": 0.05, "color": "#fff"},
              {"offset": 0.05, "color": "#222"}, {"offset": 0.0575, "color": "#222"}, {"offset": 0.0575, "color": "#fff"}, {"offset": 0.075, "color": "#fff"},
              {"offset": 0.075, "color": "#222"}, {"offset": 0.0825, "color": "#222"}, {"offset": 0.0825, "color": "#fff"}, {"offset": 0.1, "color": "#fff"},
              {"offset": 0.1, "color": "#222"}, {"offset": 0.1075, "color": "#222"}, {"offset": 0.1075, "color": "#fff"}, {"offset": 0.125, "color": "#fff"},
              {"offset": 0.125, "color": "#222"}, {"offset": 0.1325, "color": "#222"}, {"offset": 0.1325, "color": "#fff"}, {"offset": 0.15, "color": "#fff"},
              {"offset": 0.15, "color": "#222"}, {"offset": 0.1575, "color": "#222"}, {"offset": 0.1575, "color": "#fff"}, {"offset": 0.175, "color": "#fff"},
              {"offset": 0.175, "color": "#222"}, {"offset": 0.1825, "color": "#222"}, {"offset": 0.1825, "color": "#fff"}, {"offset": 0.2, "color": "#fff"},
              {"offset": 0.2, "color": "#222"}, {"offset": 0.2075, "color": "#222"}, {"offset": 0.2075, "color": "#fff"}, {"offset": 0.225, "color": "#fff"},
              {"offset": 0.225, "color": "#222"}, {"offset": 0.2325, "color": "#222"}, {"offset": 0.2325, "color": "#fff"}, {"offset": 0.25, "color": "#fff"},
              {"offset": 0.25, "color": "#222"}, {"offset": 0.2575, "color": "#222"}, {"offset": 0.2575, "color": "#fff"}, {"offset": 0.275, "color": "#fff"},
              {"offset": 0.275, "color": "#222"}, {"offset": 0.2825, "color": "#222"}, {"offset": 0.2825, "color": "#fff"}, {"offset": 0.3, "color": "#fff"},
              {"offset": 0.3, "color": "#222"}, {"offset": 0.3075, "color": "#222"}, {"offset": 0.3075, "color": "#fff"}, {"offset": 0.325, "color": "#fff"},
              {"offset": 0.325, "color": "#222"}, {"offset": 0.3325, "color": "#222"}, {"offset": 0.3325, "color": "#fff"}, {"offset": 0.35, "color": "#fff"},
              {"offset": 0.35, "color": "#222"}, {"offset": 0.3575, "color": "#222"}, {"offset": 0.3575, "color": "#fff"}, {"offset": 0.375, "color": "#fff"},
              {"offset": 0.375, "color": "#222"}, {"offset": 0.3825, "color": "#222"}, {"offset": 0.3825, "color": "#fff"}, {"offset": 0.4, "color": "#fff"},
              {"offset": 0.4, "color": "#222"}, {"offset": 0.4075, "color": "#222"}, {"offset": 0.4075, "color": "#fff"}, {"offset": 0.425, "color": "#fff"},
              {"offset": 0.425, "color": "#222"}, {"offset": 0.4325, "color": "#222"}, {"offset": 0.4325, "color": "#fff"}, {"offset": 0.45, "color": "#fff"},
              {"offset": 0.45, "color": "#222"}, {"offset": 0.4575, "color": "#222"}, {"offset": 0.4575, "color": "#fff"}, {"offset": 0.475, "color": "#fff"},
              {"offset": 0.475, "color": "#222"}, {"offset": 0.4825, "color": "#222"}, {"offset": 0.4825, "color": "#fff"}, {"offset": 0.5, "color": "#fff"},
              {"offset": 0.5, "color": "#222"}, {"offset": 0.5075, "color": "#222"}, {"offset": 0.5075, "color": "#fff"}, {"offset": 0.525, "color": "#fff"},
              {"offset": 0.525, "color": "#222"}, {"offset": 0.5325, "color": "#222"}, {"offset": 0.5325, "color": "#fff"}, {"offset": 0.55, "color": "#fff"},
              {"offset": 0.55, "color": "#222"}, {"offset": 0.5575, "color": "#222"}, {"offset": 0.5575, "color": "#fff"}, {"offset": 0.575, "color": "#fff"},
              {"offset": 0.575, "color": "#222"}, {"offset": 0.5825, "color": "#222"}, {"offset": 0.5825, "color": "#fff"}, {"offset": 0.6, "color": "#fff"},
              {"offset": 0.6, "color": "#222"}, {"offset": 0.6075, "color": "#222"}, {"offset": 0.6075, "color": "#fff"}, {"offset": 0.625, "color": "#fff"},
              {"offset": 0.625, "color": "#222"}, {"offset": 0.6325, "color": "#222"}, {"offset": 0.6325, "color": "#fff"}, {"offset": 0.65, "color": "#fff"},
              {"offset": 0.65, "color": "#222"}, {"offset": 0.6575, "color": "#222"}, {"offset": 0.6575, "color": "#fff"}, {"offset": 0.675, "color": "#fff"},
              {"offset": 0.675, "color": "#222"}, {"offset": 0.6825, "color": "#222"}, {"offset": 0.6825, "color": "#fff"}, {"offset": 0.7, "color": "#fff"},
              {"offset": 0.7, "color": "#222"}, {"offset": 0.7075, "color": "#222"}, {"offset": 0.7075, "color": "#fff"}, {"offset": 0.725, "color": "#fff"},
              {"offset": 0.725, "color": "#222"}, {"offset": 0.7325, "color": "#222"}, {"offset": 0.7325, "color": "#fff"}, {"offset": 0.75, "color": "#fff"},
              {"offset": 0.75, "color": "#222"}, {"offset": 0.7575, "color": "#222"}, {"offset": 0.7575, "color": "#fff"}, {"offset": 0.775, "color": "#fff"},
              {"offset": 0.775, "color": "#222"}, {"offset": 0.7825, "color": "#222"}, {"offset": 0.7825, "color": "#fff"}, {"offset": 0.8, "color": "#fff"},
              {"offset": 0.8, "color": "#222"}, {"offset": 0.8075, "color": "#222"}, {"offset": 0.8075, "color": "#fff"}, {"offset": 0.825, "color": "#fff"},
              {"offset": 0.825, "color": "#222"}, {"offset": 0.8325, "color": "#222"}, {"offset": 0.8325, "color": "#fff"}, {"offset": 0.85, "color": "#fff"},
              {"offset": 0.85, "color": "#222"}, {"offset": 0.8575, "color": "#222"}, {"offset": 0.8575, "color": "#fff"}, {"offset": 0.875, "color": "#fff"},
              {"offset": 0.875, "color": "#222"}, {"offset": 0.8825, "color": "#222"}, {"offset": 0.8825, "color": "#fff"}, {"offset": 0.9, "color": "#fff"},
              {"offset": 0.9, "color": "#222"}, {"offset": 0.9075, "color": "#222"}, {"offset": 0.9075, "color": "#fff"}, {"offset": 0.925, "color": "#fff"},
              {"offset": 0.925, "color": "#222"}, {"offset": 0.9325, "color": "#222"}, {"offset": 0.9325, "color": "#fff"}, {"offset": 0.95, "color": "#fff"},
              {"offset": 0.95, "color": "#222"}, {"offset": 0.9575, "color": "#222"}, {"offset": 0.9575, "color": "#fff"}, {"offset": 0.975, "color": "#fff"},
              {"offset": 0.975, "color": "#222"}, {"offset": 0.9825, "color": "#222"}, {"offset": 0.9825, "color": "#fff"}, {"offset": 1, "color": "#fff"}
            ]}},
            {"test": "datum.compound === '4l'", "value": {"gradient": "linear", "x1": 0, "y1": 1, "x2": 0.1546, "y2": -0.117, "stops": [
              {"offset": 0, "color": "#222"}, {"offset": 0.012, "color": "#222"}, {"offset": 0.012, "color": "#fff"}, {"offset": 0.04, "color": "#fff"},
              {"offset": 0.04, "color": "#222"}, {"offset": 0.052, "color": "#222"}, {"offset": 0.052, "color": "#fff"}, {"offset": 0.08, "color": "#fff"},
              {"offset": 0.08, "color": "#222"}, {"offset": 0.092, "color": "#222"}, {"offset": 0.092, "color": "#fff"}, {"offset": 0.12, "color": "#fff"},
              {"offset": 0.12, "color": "#222"}, {"offset": 0.132, "color": "#222"}, {"offset": 0.132, "color": "#fff"}, {"offset": 0.16, "color": "#fff"},
              {"offset": 0.16, "color": "#222"}, {"offset": 0.172, "color": "#222"}, {"offset": 0.172, "color": "#fff"}, {"offset": 0.2, "color": "#fff"},
              {"offset": 0.2, "color": "#222"}, {"offset": 0.212, "color": "#222"}, {"offset": 0.212, "color": "#fff"}, {"offset": 0.24, "color": "#fff"},
              {"offset": 0.24, "color": "#222"}, {"offset": 0.252, "color": "#222"}, {"offset": 0.252, "color": "#fff"}, {"offset": 0.28, "color": "#fff"},
              {"offset": 0.28, "color": "#222"}, {"offset": 0.292, "color": "#222"}, {"offset": 0.292, "color": "#fff"}, {"offset": 0.32, "color": "#fff"},
              {"offset": 0.32, "color": "#222"}, {"offset": 0.332, "color": "#222"}, {"offset": 0.332, "color": "#fff"}, {"offset": 0.36, "color": "#fff"},
              {"offset": 0.36, "color": "#222"}, {"offset": 0.372, "color": "#222"}, {"offset": 0.372, "color": "#fff"}, {"offset": 0.4, "color": "#fff"},
              {"offset": 0.4, "color": "#222"}, {"offset": 0.412, "color": "#222"}, {"offset": 0.412, "color": "#fff"}, {"offset": 0.44, "color": "#fff"},
              {"offset": 0.44, "color": "#222"}, {"offset": 0.452, "color": "#222"}, {"offset": 0.452, "color": "#fff"}, {"offset": 0.48, "color": "#fff"},
              {"offset": 0.48, "color": "#222"}, {"offset": 0.492, "color": "#222"}, {"offset": 0.492, "color": "#fff"}, {"offset": 0.52, "color": "#fff"},
              {"offset": 0.52, "color": "#222"}, {"offset": 0.532, "color": "#222"}, {"offset": 0.532, "color": "#fff"}, {"offset": 0.56, "color": "#fff"},
              {"offset": 0.56, "color": "#222"}, {"offset": 0.572, "color": "#222"}, {"offset": 0.572, "color": "#fff"}, {"offset": 0.6, "color": "#fff"},
              {"offset": 0.6, "color": "#222"}, {"offset": 0.612, "color": "#222"}, {"offset": 0.612, "color": "#fff"}, {"offset": 0.64, "color": "#fff"},
              {"offset": 0.64, "color": "#222"}, {"offset": 0.652, "color": "#222"}, {"offset": 0.652, "color": "#fff"}, {"offset": 0.68, "color": "#fff"},
              {"offset": 0.68, "color": "#222"}, {"offset": 0.692, "color": "#222"}, {"offset": 0.692, "color": "#fff"}, {"offset": 0.72, "color": "#fff"},
              {"offset": 0.72, "color": "#222"}, {"offset": 0.732, "color": "#222"}, {"offset": 0.732, "color": "#fff"}, {"offset": 0.76, "color": "#fff"},
              {"offset": 0.76, "color": "#222"}, {"offset": 0.772, "color": "#222"}, {"offset": 0.772, "color": "#fff"}, {"offset": 0.8, "color": "#fff"},
              {"offset": 0.8, "color": "#222"}, {"offset": 0.812, "color": "#222"}, {"offset": 0.812, "color": "#fff"}, {"offset": 0.84, "color": "#fff"},
              {"offset": 0.84, "color": "#222"}, {"offset": 0.852, "color": "#222"}, {"offset": 0.852, "color": "#fff"}, {"offset": 0.88, "color": "#fff"},
              {"offset": 0.88, "color": "#222"}, {"offset": 0.892, "color": "#222"}, {"offset": 0.892, "color": "#fff"}, {"offset": 0.92, "color": "#fff"},
              {"offset": 0.92, "color": "#222"}, {"offset": 0.932, "color": "#222"}, {"offset": 0.932, "color": "#fff"}, {"offset": 0.96, "color": "#fff"},
              {"offset": 0.96, "color": "#222"}, {"offset": 0.972, "color": "#222"}, {"offset": 0.972, "color": "#fff"}, {"offset": 1, "color": "#fff"}
            ]}}
          ],
          "value": null
        }
      }
    },
    {
      "mark": {"type": "bar", "stroke": "black", "strokeWidth": 3, "strokeJoin": "miter"},
      "encoding": {
        "y": {"field": "value", "type": "quantitative"},
        "fill": {
          "condition": [
            {"test": "datum.compound === '4e'", "value": {"gradient": "linear", "x1": 0, "y1": 0, "x2": 1, "y2": 0, "stops": [
              {"offset": 0, "color": "rgba(0,0,0,0)"},
              {"offset": 0.147, "color": "rgba(0,0,0,0)"}, {"offset": 0.147, "color": "#222"}, {"offset": 0.187, "color": "#222"}, {"offset": 0.187, "color": "rgba(0,0,0,0)"},
              {"offset": 0.313, "color": "rgba(0,0,0,0)"}, {"offset": 0.313, "color": "#222"}, {"offset": 0.353, "color": "#222"}, {"offset": 0.353, "color": "rgba(0,0,0,0)"},
              {"offset": 0.48, "color": "rgba(0,0,0,0)"}, {"offset": 0.48, "color": "#222"}, {"offset": 0.52, "color": "#222"}, {"offset": 0.52, "color": "rgba(0,0,0,0)"},
              {"offset": 0.647, "color": "rgba(0,0,0,0)"}, {"offset": 0.647, "color": "#222"}, {"offset": 0.687, "color": "#222"}, {"offset": 0.687, "color": "rgba(0,0,0,0)"},
              {"offset": 0.813, "color": "rgba(0,0,0,0)"}, {"offset": 0.813, "color": "#222"}, {"offset": 0.853, "color": "#222"}, {"offset": 0.853, "color": "rgba(0,0,0,0)"},
              {"offset": 1, "color": "rgba(0,0,0,0)"}
            ]}},
            {"test": "datum.compound === '4f'", "value": {"gradient": "linear", "x1": 0, "y1": 1, "x2": 0.2246, "y2": -0.151, "stops": [
              {"offset": 0, "color": "#222"}, {"offset": 0.012, "color": "#222"}, {"offset": 0.012, "color": "rgba(0,0,0,0)"}, {"offset": 0.04, "color": "rgba(0,0,0,0)"},
              {"offset": 0.04, "color": "#222"}, {"offset": 0.052, "color": "#222"}, {"offset": 0.052, "color": "rgba(0,0,0,0)"}, {"offset": 0.08, "color": "rgba(0,0,0,0)"},
              {"offset": 0.08, "color": "#222"}, {"offset": 0.092, "color": "#222"}, {"offset": 0.092, "color": "rgba(0,0,0,0)"}, {"offset": 0.12, "color": "rgba(0,0,0,0)"},
              {"offset": 0.12, "color": "#222"}, {"offset": 0.132, "color": "#222"}, {"offset": 0.132, "color": "rgba(0,0,0,0)"}, {"offset": 0.16, "color": "rgba(0,0,0,0)"},
              {"offset": 0.16, "color": "#222"}, {"offset": 0.172, "color": "#222"}, {"offset": 0.172, "color": "rgba(0,0,0,0)"}, {"offset": 0.2, "color": "rgba(0,0,0,0)"},
              {"offset": 0.2, "color": "#222"}, {"offset": 0.212, "color": "#222"}, {"offset": 0.212, "color": "rgba(0,0,0,0)"}, {"offset": 0.24, "color": "rgba(0,0,0,0)"},
              {"offset": 0.24, "color": "#222"}, {"offset": 0.252, "color": "#222"}, {"offset": 0.252, "color": "rgba(0,0,0,0)"}, {"offset": 0.28, "color": "rgba(0,0,0,0)"},
              {"offset": 0.28, "color": "#222"}, {"offset": 0.292, "color": "#222"}, {"offset": 0.292, "color": "rgba(0,0,0,0)"}, {"offset": 0.32, "color": "rgba(0,0,0,0)"},
              {"offset": 0.32, "color": "#222"}, {"offset": 0.332, "color": "#222"}, {"offset": 0.332, "color": "rgba(0,0,0,0)"}, {"offset": 0.36, "color": "rgba(0,0,0,0)"},
              {"offset": 0.36, "color": "#222"}, {"offset": 0.372, "color": "#222"}, {"offset": 0.372, "color": "rgba(0,0,0,0)"}, {"offset": 0.4, "color": "rgba(0,0,0,0)"},
              {"offset": 0.4, "color": "#222"}, {"offset": 0.412, "color": "#222"}, {"offset": 0.412, "color": "rgba(0,0,0,0)"}, {"offset": 0.44, "color": "rgba(0,0,0,0)"},
              {"offset": 0.44, "color": "#222"}, {"offset": 0.452, "color": "#222"}, {"offset": 0.452, "color": "rgba(0,0,0,0)"}, {"offset": 0.48, "color": "rgba(0,0,0,0)"},
              {"offset": 0.48, "color": "#222"}, {"offset": 0.492, "color": "#222"}, {"offset": 0.492, "color": "rgba(0,0,0,0)"}, {"offset": 0.52, "color": "rgba(0,0,0,0)"},
              {"offset": 0.52, "color": "#222"}, {"offset": 0.532, "color": "#222"}, {"offset": 0.532, "color": "rgba(0,0,0,0)"}, {"offset": 0.56, "color": "rgba(0,0,0,0)"},
              {"offset": 0.56, "color": "#222"}, {"offset": 0.572, "color": "#222"}, {"offset": 0.572, "color": "rgba(0,0,0,0)"}, {"offset": 0.6, "color": "rgba(0,0,0,0)"},
              {"offset": 0.6, "color": "#222"}, {"offset": 0.612, "color": "#222"}, {"offset": 0.612, "color": "rgba(0,0,0,0)"}, {"offset": 0.64, "color": "rgba(0,0,0,0)"},
              {"offset": 0.64, "color": "#222"}, {"offset": 0.652, "color": "#222"}, {"offset": 0.652, "color": "rgba(0,0,0,0)"}, {"offset": 0.68, "color": "rgba(0,0,0,0)"},
              {"offset": 0.68, "color": "#222"}, {"offset": 0.692, "color": "#222"}, {"offset": 0.692, "color": "rgba(0,0,0,0)"}, {"offset": 0.72, "color": "rgba(0,0,0,0)"},
              {"offset": 0.72, "color": "#222"}, {"offset": 0.732, "color": "#222"}, {"offset": 0.732, "color": "rgba(0,0,0,0)"}, {"offset": 0.76, "color": "rgba(0,0,0,0)"},
              {"offset": 0.76, "color": "#222"}, {"offset": 0.772, "color": "#222"}, {"offset": 0.772, "color": "rgba(0,0,0,0)"}, {"offset": 0.8, "color": "rgba(0,0,0,0)"},
              {"offset": 0.8, "color": "#222"}, {"offset": 0.812, "color": "#222"}, {"offset": 0.812, "color": "rgba(0,0,0,0)"}, {"offset": 0.84, "color": "rgba(0,0,0,0)"},
              {"offset": 0.84, "color": "#222"}, {"offset": 0.852, "color": "#222"}, {"offset": 0.852, "color": "rgba(0,0,0,0)"}, {"offset": 0.88, "color": "rgba(0,0,0,0)"},
              {"offset": 0.88, "color": "#222"}, {"offset": 0.892, "color": "#222"}, {"offset": 0.892, "color": "rgba(0,0,0,0)"}, {"offset": 0.92, "color": "rgba(0,0,0,0)"},
              {"offset": 0.92, "color": "#222"}, {"offset": 0.932, "color": "#222"}, {"offset": 0.932, "color": "rgba(0,0,0,0)"}, {"offset": 0.96, "color": "rgba(0,0,0,0)"},
              {"offset": 0.96, "color": "#222"}, {"offset": 0.972, "color": "#222"}, {"offset": 0.972, "color": "rgba(0,0,0,0)"}, {"offset": 1, "color": "rgba(0,0,0,0)"}
            ]}},
            {"test": "datum.compound === '4k'", "value": {"gradient": "linear", "x1": 0, "y1": 0, "x2": 1, "y2": 0, "stops": [
              {"offset": 0, "color": "rgba(0,0,0,0)"},
              {"offset": 0.293, "color": "rgba(0,0,0,0)"}, {"offset": 0.293, "color": "#222"}, {"offset": 0.373, "color": "#222"}, {"offset": 0.373, "color": "rgba(0,0,0,0)"},
              {"offset": 0.627, "color": "rgba(0,0,0,0)"}, {"offset": 0.627, "color": "#222"}, {"offset": 0.707, "color": "#222"}, {"offset": 0.707, "color": "rgba(0,0,0,0)"},
              {"offset": 1, "color": "rgba(0,0,0,0)"}
            ]}},
            {"test": "datum.compound === '4l'", "value": {"gradient": "linear", "x1": 0, "y1": 0, "x2": 0.1546, "y2": 1.117, "stops": [
              {"offset": 0, "color": "#222"}, {"offset": 0.012, "color": "#222"}, {"offset": 0.012, "color": "rgba(0,0,0,0)"}, {"offset": 0.04, "color": "rgba(0,0,0,0)"},
              {"offset": 0.04, "color": "#222"}, {"offset": 0.052, "color": "#222"}, {"offset": 0.052, "color": "rgba(0,0,0,0)"}, {"offset": 0.08, "color": "rgba(0,0,0,0)"},
              {"offset": 0.08, "color": "#222"}, {"offset": 0.092, "color": "#222"}, {"offset": 0.092, "color": "rgba(0,0,0,0)"}, {"offset": 0.12, "color": "rgba(0,0,0,0)"},
              {"offset": 0.12, "color": "#222"}, {"offset": 0.132, "color": "#222"}, {"offset": 0.132, "color": "rgba(0,0,0,0)"}, {"offset": 0.16, "color": "rgba(0,0,0,0)"},
              {"offset": 0.16, "color": "#222"}, {"offset": 0.172, "color": "#222"}, {"offset": 0.172, "color": "rgba(0,0,0,0)"}, {"offset": 0.2, "color": "rgba(0,0,0,0)"},
              {"offset": 0.2, "color": "#222"}, {"offset": 0.212, "color": "#222"}, {"offset": 0.212, "color": "rgba(0,0,0,0)"}, {"offset": 0.24, "color": "rgba(0,0,0,0)"},
              {"offset": 0.24, "color": "#222"}, {"offset": 0.252, "color": "#222"}, {"offset": 0.252, "color": "rgba(0,0,0,0)"}, {"offset": 0.28, "color": "rgba(0,0,0,0)"},
              {"offset": 0.28, "color": "#222"}, {"offset": 0.292, "color": "#222"}, {"offset": 0.292, "color": "rgba(0,0,0,0)"}, {"offset": 0.32, "color": "rgba(0,0,0,0)"},
              {"offset": 0.32, "color": "#222"}, {"offset": 0.332, "color": "#222"}, {"offset": 0.332, "color": "rgba(0,0,0,0)"}, {"offset": 0.36, "color": "rgba(0,0,0,0)"},
              {"offset": 0.36, "color": "#222"}, {"offset": 0.372, "color": "#222"}, {"offset": 0.372, "color": "rgba(0,0,0,0)"}, {"offset": 0.4, "color": "rgba(0,0,0,0)"},
              {"offset": 0.4, "color": "#222"}, {"offset": 0.412, "color": "#222"}, {"offset": 0.412, "color": "rgba(0,0,0,0)"}, {"offset": 0.44, "color": "rgba(0,0,0,0)"},
              {"offset": 0.44, "color": "#222"}, {"offset": 0.452, "color": "#222"}, {"offset": 0.452, "color": "rgba(0,0,0,0)"}, {"offset": 0.48, "color": "rgba(0,0,0,0)"},
              {"offset": 0.48, "color": "#222"}, {"offset": 0.492, "color": "#222"}, {"offset": 0.492, "color": "rgba(0,0,0,0)"}, {"offset": 0.52, "color": "rgba(0,0,0,0)"},
              {"offset": 0.52, "color": "#222"}, {"offset": 0.532, "color": "#222"}, {"offset": 0.532, "color": "rgba(0,0,0,0)"}, {"offset": 0.56, "color": "rgba(0,0,0,0)"},
              {"offset": 0.56, "color": "#222"}, {"offset": 0.572, "color": "#222"}, {"offset": 0.572, "color": "rgba(0,0,0,0)"}, {"offset": 0.6, "color": "rgba(0,0,0,0)"},
              {"offset": 0.6, "color": "#222"}, {"offset": 0.612, "color": "#222"}, {"offset": 0.612, "color": "rgba(0,0,0,0)"}, {"offset": 0.64, "color": "rgba(0,0,0,0)"},
              {"offset": 0.64, "color": "#222"}, {"offset": 0.652, "color": "#222"}, {"offset": 0.652, "color": "rgba(0,0,0,0)"}, {"offset": 0.68, "color": "rgba(0,0,0,0)"},
              {"offset": 0.68, "color": "#222"}, {"offset": 0.692, "color": "#222"}, {"offset": 0.692, "color": "rgba(0,0,0,0)"}, {"offset": 0.72, "color": "rgba(0,0,0,0)"},
              {"offset": 0.72, "color": "#222"}, {"offset": 0.732, "color": "#222"}, {"offset": 0.732, "color": "rgba(0,0,0,0)"}, {"offset": 0.76, "color": "rgba(0,0,0,0)"},
              {"offset": 0.76, "color": "#222"}, {"offset": 0.772, "color": "#222"}, {"offset": 0.772, "color": "rgba(0,0,0,0)"}, {"offset": 0.8, "color": "rgba(0,0,0,0)"},
              {"offset": 0.8, "color": "#222"}, {"offset": 0.812, "color": "#222"}, {"offset": 0.812, "color": "rgba(0,0,0,0)"}, {"offset": 0.84, "color": "rgba(0,0,0,0)"},
              {"offset": 0.84, "color": "#222"}, {"offset": 0.852, "color": "#222"}, {"offset": 0.852, "color": "rgba(0,0,0,0)"}, {"offset": 0.88, "color": "rgba(0,0,0,0)"},
              {"offset": 0.88, "color": "#222"}, {"offset": 0.892, "color": "#222"}, {"offset": 0.892, "color": "rgba(0,0,0,0)"}, {"offset": 0.92, "color": "rgba(0,0,0,0)"},
              {"offset": 0.92, "color": "#222"}, {"offset": 0.932, "color": "#222"}, {"offset": 0.932, "color": "rgba(0,0,0,0)"}, {"offset": 0.96, "color": "rgba(0,0,0,0)"},
              {"offset": 0.96, "color": "#222"}, {"offset": 0.972, "color": "#222"}, {"offset": 0.972, "color": "rgba(0,0,0,0)"}, {"offset": 1, "color": "rgba(0,0,0,0)"}
            ]}}
          ],
          "value": null
        }
      }
    },
    {
      "mark": {"type": "rule", "stroke": "black", "strokeWidth": 3},
      "encoding": {
        "y": {"field": "value", "type": "quantitative"},
        "y2": {"field": "upper"}
      }
    },
    {
      "mark": {"type": "tick", "color": "black", "size": 18, "thickness": 3, "orient": "horizontal", "opacity": 1},
      "encoding": {
        "y": {"field": "upper", "type": "quantitative"}
      }
    },
    {
      "mark": {"type": "text", "dy": -29, "baseline": "middle", "font": "Liberation Sans", "fontSize": 14, "color": "#333333"},
      "encoding": {
        "y": {"field": "upper", "type": "quantitative"},
        "text": {"field": "sig"}
      }
    }
  ]
}
